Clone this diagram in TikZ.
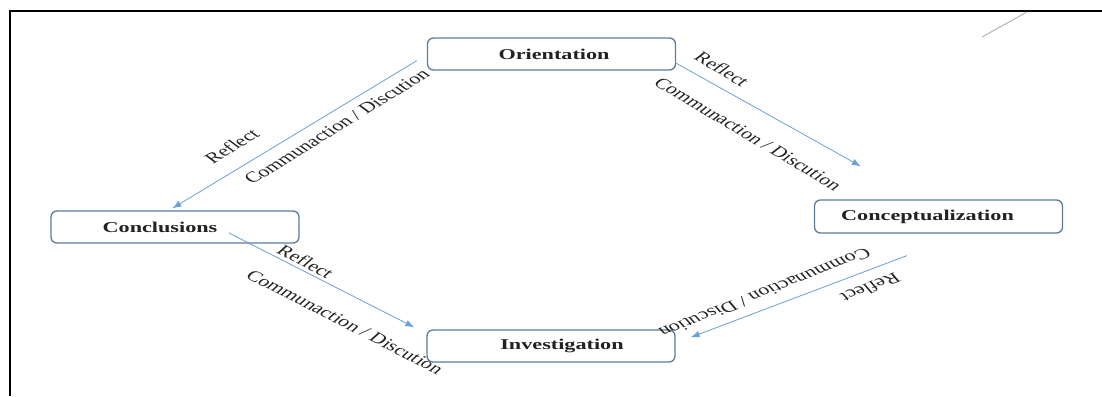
\documentclass[tikz,border=0pt]{standalone}
\usepackage{fontspec}
\setmainfont{Liberation Serif}
\usepackage{graphicx}
\usetikzlibrary{arrows.meta,calc}
\definecolor{boxcol}{HTML}{5E7C9A}
\definecolor{arrcol}{HTML}{6A9FD8}
\definecolor{txtcol}{HTML}{222222}
\tikzset{
  stage/.style={draw=boxcol, line width=1.3pt, rounded corners=6pt, fill=white,
    minimum width=248pt, minimum height=32pt, inner sep=0pt, text=txtcol,
    font=\fontsize{15}{18}\selectfont\bfseries},
  flow/.style={draw=arrcol, line width=0.8pt, -{Latex[length=9pt,width=6.5pt]}},
  lbl/.style={font=\fontsize{15}{18}\selectfont, text=txtcol, inner sep=0pt, xscale=1.48},
  frameline/.style={line width=2.8pt, black},
  strayline/.style={line width=0.8pt, gray!70},
}
\begin{document}
\begin{tikzpicture}[x=1pt,y=-1pt]
\useasboundingbox (0,0) rectangle (1102,396);
% frame
\draw[frameline] (10,396) -- (10,11) -- (1102,11);
\draw[strayline] (982,37) -- (1027,12);
% stages
\node[stage] (o) at (551.5,54) {\hspace*{5pt}\scalebox{1.48}[1]{Orientation}};
\node[stage, minimum height=33pt] (p) at (938.5,216.5) {\scalebox{1.48}[1]{Conceptualization}\hspace*{22pt}};
\node[stage] (c) at (175,227) {\scalebox{1.48}[1]{Conclusions}\hspace*{30pt}};
\node[stage] (i) at (551,346) {\hspace*{22pt}\scalebox{1.48}[1]{Investigation}};
% connectors
\draw[flow] ([xshift=-10pt,yshift=10pt]o.south west) -- ([xshift=122pt,yshift=2pt]c.north west);
\draw[flow] ([xshift=-1pt,yshift=8pt]o.south east) -- ([xshift=47pt,yshift=33pt]p.north west);
\draw[flow] ([xshift=54pt,yshift=-6pt]c.center) -- ([xshift=-12pt,yshift=2pt]i.north west);
\draw[flow] ([xshift=93pt,yshift=-22pt]p.south west) -- ([xshift=15pt,yshift=-8pt]i.north east);
% labels
\node[lbl, rotate=42.1] (r1) at (231.7,146) {Reflect};
\node[lbl, rotate=42.1] (d1) at (336.7,126.7) {Communaction / Discution};
\node[lbl, rotate=-41.1] (r2) at (722,69) {Reflect};
\node[lbl, rotate=-41.1] (d2) at (748,134) {Communaction / Discution};
\node[lbl, rotate=-37] (r3) at (305.7,261.7) {Reflect};
\node[lbl, rotate=-37] (d3) at (345,322) {Communaction / Discution};
\node[lbl, rotate=210.2] (r4) at (870.7,288) {Reflect};
\node[lbl, rotate=210.2] (d4) at (765,293) {Communaction / Discution};
\end{tikzpicture}
\end{document}
